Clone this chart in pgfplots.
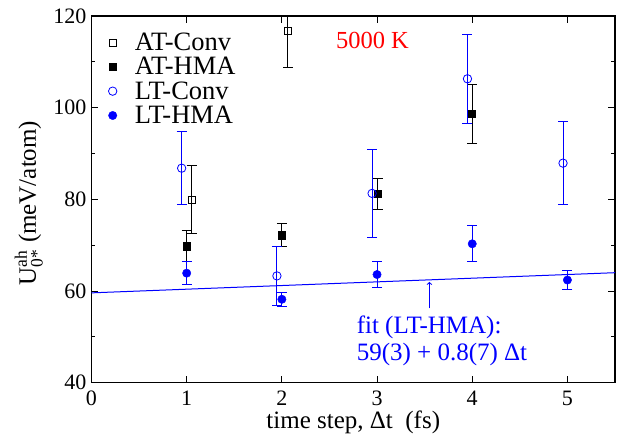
\documentclass[border=0pt]{standalone}
\usepackage{fontspec}
\setmainfont{Liberation Serif}
\usepackage{amsmath}
\usepackage{pgfplots}
\pgfplotsset{compat=1.18}
\begin{document}
\begin{tikzpicture}
\useasboundingbox (-91.5pt,-51.3pt) rectangle (525.5pt,382.7pt);
\begin{axis}[
  at={(0,0)}, anchor=south west,
  scale only axis, width=523.5pt, height=366.7pt,
  xmin=0, xmax=5.5, ymin=40, ymax=120,
  xtick={0,1,2,3,4,5}, ytick={40,60,80,100,120},
  minor ytick={50,70,90,110},
  tick align=inside, major tick length=7pt, minor tick length=4pt,
  xtick pos=both, ytick pos=both,
  axis line style={line width=1.2pt},
  every tick/.style={black, line width=0.8pt},
  /pgf/number format/assume math mode=true,
  ticklabel style={font=\fontsize{22}{26}\selectfont},
  yticklabel style={inner sep=0pt, xshift=-5pt},
  xticklabel style={inner sep=0pt, yshift=-8pt},
  xlabel={time step, Δt\ \ (fs)},
  xlabel style={font=\fontsize{25}{30}\selectfont, inner sep=0pt, at={(axis description cs:0.5,0)}, anchor=north, yshift=-27.5pt},
  ylabel={U$^{\text{ah}}_{\text{0*}}$\ (meV/atom)},
  ylabel style={font=\fontsize{25}{30}\selectfont, inner sep=0pt, at={(axis description cs:-0.0926,0.49)}, anchor=south},
  legend image code/.code={\draw[#1] plot coordinates {(0pt,0pt)};},
  legend style={at={(axis description cs:0,1)}, anchor=north west, xshift=17pt, yshift=-17pt,
    draw=none, fill=none, inner sep=0pt, outer sep=0pt, row sep=5.3pt, column sep=18pt,
    font=\fontsize{26.5}{30}\selectfont, nodes={inner sep=0pt}},
  legend cell align=left,
  error bars/error bar style={line width=0.9pt},
  error bars/error mark options={rotate=90, mark size=5pt, line width=0.9pt},
]
% AT-Conv
\addplot[black, only marks, mark=square, mark size=3.6pt, mark options={fill=white, line width=0.8pt},
  error bars/.cd, y dir=both, y explicit]
  table[x=x, y=y, y error=e] {
x y e
1.052 79.9 7.4
2.063 116.7 8.0
};
\addlegendentry{AT-Conv}
% AT-HMA
\addplot[black, only marks, mark=square*, mark size=3.6pt, mark options={fill=black},
  error bars/.cd, y dir=both, y explicit]
  table[x=x, y=y, y error=e] {
x y e
1.0 69.8 3.4
2.0 72.2 2.55
3.005 81.2 3.35
3.998 98.6 6.5
};
\addlegendentry{AT-HMA}
% LT-Conv
\addplot[blue, only marks, mark=o, mark size=4.2pt, mark options={fill=white, line width=0.8pt},
  error bars/.cd, y dir=both, y explicit]
  table[x=x, y=y, y error=e] {
x y e
0.947 86.8 7.95
1.948 63.3 6.35
2.948 81.3 9.65
3.95 106.3 9.7
4.954 87.9 9.1
};
\addlegendentry{LT-Conv}
% LT-HMA
\addplot[blue, only marks, mark=*, mark size=4.2pt, mark options={fill=blue},
  error bars/.cd, y dir=both, y explicit]
  table[x=x, y=y, y error=e] {
x y e
1 63.9 2.55
2 58.2 1.55
3 63.6 2.8
4 70.3 3.95
5 62.4 2.05
};
\addlegendentry{LT-HMA}
% fit line
\addplot[blue, line width=1pt, forget plot] coordinates {(0,59.6) (5.5,64.0)};
\draw[blue, line width=1pt, ->] (axis cs:3.55,56.2) -- (axis cs:3.55,62.0);
\node[anchor=base west, inner sep=0pt, text=blue, font=\fontsize{25}{28}\selectfont] at (axis cs:2.785,50.8) {fit (LT-HMA):};
\node[anchor=base west, inner sep=0pt, text=blue, font=\fontsize{25}{28}\selectfont] at (axis cs:2.785,44.9) {59(3) + 0.8(7) Δt};
\node[anchor=base west, inner sep=0pt, text=red, font=\fontsize{24.5}{28}\selectfont] at (axis cs:2.567,112.95) {5000 K};
\end{axis}
\end{tikzpicture}
\end{document}
